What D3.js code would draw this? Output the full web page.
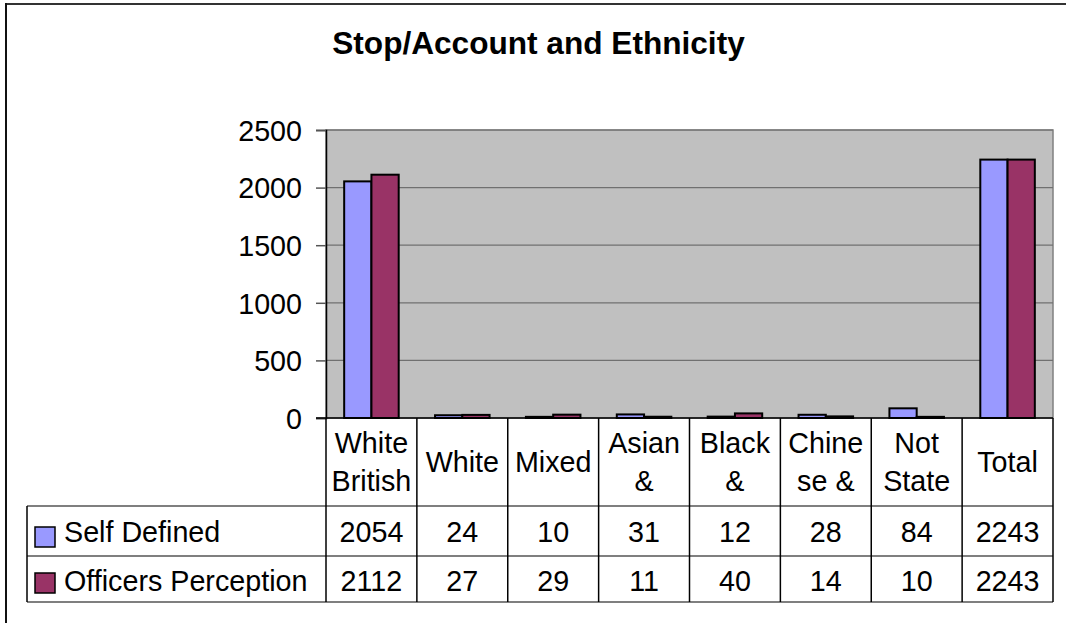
<!DOCTYPE html>
<html>
<head>
<meta charset="utf-8">
<script src="https://cdn.jsdelivr.net/npm/d3@7/dist/d3.min.js"></script>
<style>
  html, body { margin: 0; padding: 0; background: #fff; }
  svg { display: block; font-family: "Liberation Sans", Arial, sans-serif; }
</style>
</head>
<body>
<svg id="chart" width="1066" height="623"></svg>
<script>
const title = "Stop/Account and Ethnicity";
const categories = ["White British", "White", "Mixed", "Asian &", "Black &", "Chinese &", "Not State", "Total"];
const categoryLines = [["White", "British"], ["White"], ["Mixed"], ["Asian", "&"], ["Black", "&"], ["Chine", "se &"], ["Not", "State"], ["Total"]];
const seriesNames = ["Self Defined", "Officers Perception"];
const selfDefined = [2054, 24, 10, 31, 12, 28, 84, 2243];
const officersPerception = [2112, 27, 29, 11, 40, 14, 10, 2243];
const yTicks = [0, 500, 1000, 1500, 2000, 2500];
const colors = ["#9999FF", "#993366"];

const series = [selfDefined, officersPerception];
const svg = d3.select("#chart");

const plot = { left: 326, right: 1053, top: 130, bottom: 418 };
const table = { headerBottom: 506, row1Bottom: 556, row2Bottom: 602, legendLeft: 27 };
const fs = 28.7;

// outer chart border (top and left edges visible)
svg.append("line").attr("x1", 5).attr("x2", 1066).attr("y1", 4).attr("y2", 4)
  .attr("stroke", "#333").attr("stroke-width", 2);
svg.append("line").attr("x1", 6).attr("x2", 6).attr("y1", 3).attr("y2", 623)
  .attr("stroke", "#111").attr("stroke-width", 2);

// title
svg.append("text").attr("x", 538.5).attr("y", 54).attr("text-anchor", "middle")
  .attr("font-weight", "bold").attr("font-size", 31.6).attr("fill", "#000").text(title);

const x = d3.scaleBand().domain(categories).range([plot.left, plot.right]);
const y = d3.scaleLinear().domain([0, 2500]).range([plot.bottom, plot.top]);

// plot background
svg.append("rect").attr("x", plot.left).attr("y", plot.top)
  .attr("width", plot.right - plot.left).attr("height", plot.bottom - plot.top)
  .attr("fill", "#C0C0C0").attr("stroke", "#808080").attr("stroke-width", 1.5);

// gridlines
svg.append("g").selectAll("line").data(yTicks.filter(d => d > 0)).join("line")
  .attr("x1", plot.left).attr("x2", plot.right)
  .attr("y1", d => y(d)).attr("y2", d => y(d))
  .attr("stroke", "#707070").attr("stroke-width", 1.2);

// y axis
const yAxis = d3.axisLeft(y).tickValues(yTicks).tickSize(10).tickPadding(14).tickFormat(d3.format("d"));
const gy = svg.append("g").attr("transform", `translate(${plot.left},0)`).call(yAxis);
gy.select(".domain").attr("stroke", "#000").attr("stroke-width", 1.5);
gy.selectAll(".tick line").attr("stroke", "#555").attr("stroke-width", 1.5);
gy.selectAll(".tick text").attr("font-size", fs).attr("fill", "#000")
  .attr("font-family", "'Liberation Sans', Arial, sans-serif").attr("dy", "0.36em");

// bars
const barW = x.bandwidth() * 0.3;
series.forEach((vals, si) => {
  svg.append("g").selectAll("rect").data(vals).join("rect")
    .attr("x", (d, i) => x(categories[i]) + x.bandwidth() / 2 - barW + si * barW)
    .attr("y", d => y(d))
    .attr("width", barW)
    .attr("height", d => y(0) - y(d))
    .attr("fill", colors[si]).attr("stroke", "#000").attr("stroke-width", 2);
});

// zero axis line
svg.append("line").attr("x1", plot.left - 10).attr("x2", plot.right)
  .attr("y1", y(0)).attr("y2", y(0)).attr("stroke", "#000").attr("stroke-width", 1.5);

// data table
const tg = svg.append("g");
[table.headerBottom, table.row1Bottom, table.row2Bottom].forEach(yy => {
  tg.append("line").attr("x1", table.legendLeft).attr("x2", plot.right)
    .attr("y1", yy).attr("y2", yy).attr("stroke", "#555").attr("stroke-width", 1.5);
});
const bounds = categories.map(c => x(c)).concat([plot.right]);
bounds.forEach(bx => {
  tg.append("line").attr("x1", bx).attr("x2", bx)
    .attr("y1", plot.bottom).attr("y2", table.row2Bottom)
    .attr("stroke", "#000").attr("stroke-width", 1.5);
});
tg.append("line").attr("x1", table.legendLeft).attr("x2", table.legendLeft)
  .attr("y1", table.headerBottom).attr("y2", table.row2Bottom)
  .attr("stroke", "#000").attr("stroke-width", 1.5);

// header labels
categoryLines.forEach((lines, i) => {
  const cx = x(categories[i]) + x.bandwidth() / 2;
  const lh = 38;
  const base = 472 - (lines.length - 1) * lh / 2;
  const t = tg.append("text").attr("text-anchor", "middle").attr("font-size", fs).attr("fill", "#000");
  lines.forEach((ln, k) => {
    t.append("tspan").attr("x", cx).attr("y", base + k * lh).text(ln);
  });
});

// values rows and legend
const rowBase = [542, 591];
const keyTop = [527, 573];
series.forEach((vals, si) => {
  tg.append("g").selectAll("text").data(vals).join("text")
    .attr("x", (d, i) => x(categories[i]) + x.bandwidth() / 2)
    .attr("y", rowBase[si]).attr("text-anchor", "middle")
    .attr("font-size", fs).attr("fill", "#000").text(d => d);
  tg.append("rect").attr("x", 35).attr("y", keyTop[si])
    .attr("width", 20).attr("height", 20)
    .attr("fill", colors[si]).attr("stroke", "#000").attr("stroke-width", 1.5);
  tg.append("text").attr("x", 64).attr("y", rowBase[si])
    .attr("font-size", fs).attr("fill", "#000").text(seriesNames[si]);
});
</script>
</body>
</html>
